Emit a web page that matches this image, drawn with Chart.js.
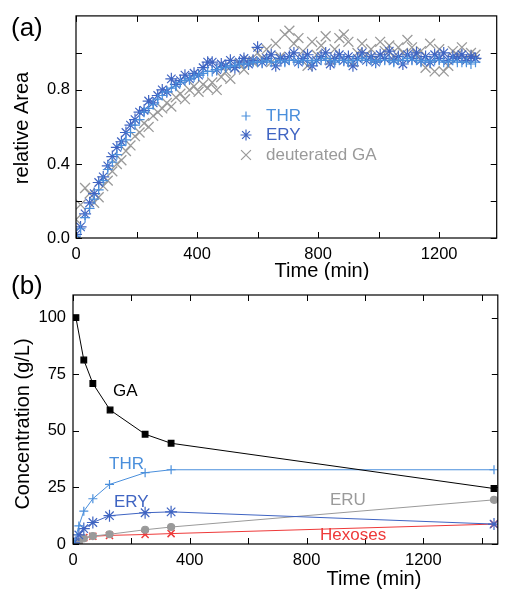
<!DOCTYPE html>
<html>
<head>
<meta charset="utf-8">
<script src="https://cdn.jsdelivr.net/npm/chart.js@4.4.0/dist/chart.umd.min.js"></script>
<style>
  html, body { margin: 0; padding: 0; background: #fff; }
  #wrap { position: relative; width: 505px; height: 590px; }
  .panel { position: absolute; left: 0; }
  #boxA { top: 0; }
  #boxB { top: 270px; }
</style>
</head>
<body>
<div id="wrap">
  <div class="panel" id="boxA"><canvas id="chartA" width="505" height="280"></canvas></div>
  <div class="panel" id="boxB"><canvas id="chartB" width="505" height="320"></canvas></div>
</div>
<script>
// panel (a): relative area vs time
const timeA = [0, 15, 30, 45, 60, 75, 90, 105, 120, 135,
  150, 165, 180, 195, 210, 225, 240, 255, 270, 285,
  300, 315, 330, 345, 360, 375, 390, 405, 420, 435,
  450, 465, 480, 495, 510, 525, 540, 555, 570, 585,
  600, 615, 630, 645, 660, 675, 690, 705, 720, 735,
  750, 765, 780, 795, 810, 825, 840, 855, 870, 885,
  900, 915, 930, 945, 960, 975, 990, 1005, 1020, 1035,
  1050, 1065, 1080, 1095, 1110, 1125, 1140, 1155, 1170, 1185,
  1200, 1215, 1230, 1245, 1260, 1275, 1290, 1305, 1320];

const thrA = [0.01, 0.05, 0.11, 0.16, 0.21, 0.26, 0.31, 0.37, 0.41, 0.45,
  0.50, 0.53, 0.57, 0.61, 0.64, 0.68, 0.70, 0.72, 0.75, 0.77,
  0.79, 0.81, 0.82, 0.84, 0.85, 0.86, 0.87, 0.88, 0.89, 0.90,
  0.90, 0.91, 0.92, 0.92, 0.93, 0.93, 0.94, 0.94, 0.94, 0.95,
  0.95, 0.95, 0.96, 0.95, 0.95, 0.96, 0.95, 0.96, 0.96, 0.95,
  0.96, 0.96, 0.95, 0.96, 0.96, 0.97, 0.96, 0.95, 0.96, 0.96,
  0.95, 0.96, 0.96, 0.97, 0.96, 0.96, 0.95, 0.96, 0.96, 0.96,
  0.95, 0.96, 0.96, 0.97, 0.96, 0.96, 0.95, 0.96, 0.95, 0.96,
  0.96, 0.95, 0.95, 0.96, 0.95, 0.95, 0.95, 0.94, 0.95];

const eryA = [0.02, 0.06, 0.13, 0.19, 0.24, 0.30, 0.33, 0.39, 0.44, 0.49,
  0.52, 0.57, 0.61, 0.64, 0.68, 0.69, 0.74, 0.73, 0.77, 0.80,
  0.79, 0.86, 0.83, 0.85, 0.88, 0.86, 0.89, 0.88, 0.92, 0.95,
  0.95, 0.91, 0.94, 0.93, 0.96, 0.92, 0.95, 0.97, 0.94, 0.96,
  1.03, 0.95, 0.97, 0.99, 0.93, 0.97, 0.96, 0.98, 1.00, 0.95,
  0.97, 0.99, 0.93, 0.96, 0.98, 1.00, 0.94, 0.97, 0.99, 0.96,
  0.98, 0.93, 0.97, 1.00, 0.96, 0.98, 0.95, 0.99, 0.97, 1.01,
  0.96, 0.98, 0.94, 0.99, 0.97, 1.00, 0.96, 0.98, 0.95, 0.99,
  0.97, 1.00, 0.96, 0.98, 0.97, 0.99, 0.96, 0.98, 0.97];

const deutA = [0.10, 0.18, 0.27, 0.24, 0.19, 0.22, 0.28, 0.31, 0.36, 0.40,
  0.42, 0.47, 0.50, 0.55, 0.57, 0.62, 0.60, 0.66, 0.68, 0.70,
  0.73, 0.71, 0.76, 0.78, 0.75, 0.80, 0.82, 0.79, 0.83, 0.81,
  0.84, 0.80, 0.87, 0.90, 0.86, 0.92, 0.94, 0.91, 0.96, 0.95,
  1.00, 0.97, 1.02, 0.95, 1.05, 0.98, 1.10, 1.12, 1.05, 1.08,
  1.01, 0.93, 1.06, 0.99, 1.04, 1.09, 0.96, 1.02, 1.08, 1.10,
  1.06, 0.95, 1.00, 1.05, 0.99, 1.02, 0.97, 1.06, 1.01, 1.04,
  0.98, 1.03, 1.00, 1.07, 1.03, 0.99, 1.01, 0.92, 1.05, 0.90,
  1.02, 0.90, 0.93, 1.01, 0.99, 1.03, 0.97, 1.00, 0.99];

const xTicksA = [0, 200, 400, 600, 800, 1000, 1200];
const yTicksA = [0, 0.2, 0.4, 0.6, 0.8, 1.0];

// panel (b): concentrations vs time
const timeGA = [10, 37, 68, 127, 247, 336, 1442];
const gaB = [100, 81.3, 70.9, 59.2, 48.5, 44.5, 24.5];
const timeProd = [3, 20, 37, 68, 125, 247, 336, 1442];
const thrB = [0, 8, 14.5, 20, 26.3, 31.5, 32.8, 32.8];
const eryB = [0.5, 4, 6.8, 9.5, 12.5, 13.8, 14.2, 8.8];
const eruB = [0, 1, 2.5, 3.5, 4.3, 6.3, 7.5, 19.5];
const hexB = [0.3, 1.5, 2.8, 3.4, 3.8, 4.2, 4.6, 8.8];

const xTicksB = [0, 200, 400, 600, 800, 1000, 1200, 1400];
const yTicksB = [0, 25, 50, 75, 100];

const C_THR = '#4a8fdc';
const C_ERY = '#3f64c2';
const C_GRAY = '#9a9a9a';
const C_RED = '#ee3a3a';
const FONT = "'Liberation Sans', Arial, Helvetica, sans-serif";

Chart.defaults.font.family = FONT;
Chart.defaults.color = '#000';

function pts(xs, ys) {
  return xs.map((x, i) => ({ x: x, y: ys[i] }));
}

function useTicks(values) {
  return s => { s.ticks = values.map(v => ({ value: v })); };
}

// draw one marker by hand (used for the legend in panel a)
function marker(ctx, kind, x, y, r) {
  ctx.beginPath();
  if (kind === 'cross' || kind === 'star') {
    ctx.moveTo(x - r, y); ctx.lineTo(x + r, y);
    ctx.moveTo(x, y - r); ctx.lineTo(x, y + r);
  }
  if (kind === 'crossRot' || kind === 'star') {
    const d = r * 0.7071;
    ctx.moveTo(x - d, y - d); ctx.lineTo(x + d, y + d);
    ctx.moveTo(x - d, y + d); ctx.lineTo(x + d, y - d);
  }
  ctx.stroke();
}

// frame + inward ticks on all four sides
const framePlugin = {
  id: 'frame',
  afterDatasetsDraw(chart) {
    const { ctx, chartArea: a, scales } = chart;
    const len = 6;
    ctx.save();
    ctx.strokeStyle = '#000';
    ctx.lineWidth = 1;
    ctx.beginPath();
    scales.x.ticks.forEach(t => {
      const px = Math.round(scales.x.getPixelForValue(t.value)) + 0.5;
      ctx.moveTo(px, a.bottom); ctx.lineTo(px, a.bottom - len);
      ctx.moveTo(px, a.top); ctx.lineTo(px, a.top + len);
    });
    scales.y.ticks.forEach(t => {
      const py = Math.round(scales.y.getPixelForValue(t.value)) + 0.5;
      ctx.moveTo(a.left, py); ctx.lineTo(a.left + len, py);
      ctx.moveTo(a.right, py); ctx.lineTo(a.right - len, py);
    });
    ctx.stroke();
    ctx.lineWidth = 1.2;
    ctx.strokeRect(a.left, a.top, a.right - a.left, a.bottom - a.top);
    ctx.restore();
  }
};

// free text (titles, panel letters, in-plot labels, legend)
const notesPlugin = {
  id: 'notes',
  afterDraw(chart, args, opts) {
    const ctx = chart.ctx;
    ctx.save();
    (opts.items || []).forEach(it => {
      ctx.save();
      ctx.fillStyle = it.color || '#000';
      ctx.font = (it.size || 17) + 'px ' + FONT;
      ctx.textAlign = it.align || 'left';
      ctx.textBaseline = 'middle';
      ctx.translate(it.x, it.y);
      if (it.rotate) ctx.rotate(it.rotate);
      ctx.fillText(it.text, 0, 0);
      ctx.restore();
    });
    (opts.marks || []).forEach(m => {
      ctx.strokeStyle = m.color;
      ctx.lineWidth = m.width || 1.2;
      marker(ctx, m.kind, m.x, m.y, m.r);
    });
    ctx.restore();
  }
};

function fixWidth(w) { return s => { s.width = w; }; }
function fixHeight(h) { return s => { s.height = h; }; }

// ---------- panel (a) ----------
new Chart(document.getElementById('chartA'), {
  type: 'scatter',
  data: {
    datasets: [
      { label: 'THR', data: pts(timeA, thrA), pointStyle: 'cross', pointRadius: 5,
        borderColor: C_THR, backgroundColor: C_THR, pointBorderWidth: 1.2 },
      { label: 'ERY', data: pts(timeA, eryA), pointStyle: 'star', pointRadius: 6,
        borderColor: C_ERY, backgroundColor: C_ERY, pointBorderWidth: 1.2 },
      { label: 'deuterated GA', data: pts(timeA, deutA), pointStyle: 'crossRot', pointRadius: 7,
        borderColor: C_GRAY, backgroundColor: C_GRAY, pointBorderWidth: 1.3 }
    ]
  },
  options: {
    responsive: false,
    animation: false,
    layout: { padding: { left: 0, right: 2, top: 14, bottom: 0 } },
    scales: {
      x: {
        type: 'linear', min: 0, max: 1390,
        afterBuildTicks: useTicks(xTicksA),
        afterFit: fixHeight(42),
        grid: { display: false, drawTicks: false },
        border: { display: false },
        ticks: {
          autoSkip: false, padding: 7, maxRotation: 0,
          font: { size: 16.5 },
          callback: v => (v % 400 === 0 ? String(v) : '')
        }
      },
      y: {
        min: 0, max: 1.2,
        afterBuildTicks: useTicks(yTicksA),
        afterFit: fixWidth(76),
        grid: { display: false, drawTicks: false },
        border: { display: false },
        ticks: {
          padding: 6, autoSkip: false,
          font: { size: 16.5 },
          callback: v => {
            const k = Math.round(v * 10);
            return (k === 0 || k === 4 || k === 8) ? (k / 10).toFixed(1) : '';
          }
        }
      }
    },
    plugins: {
      legend: { display: false },
      tooltip: { enabled: false },
      notes: {
        items: [
          { text: '(a)', x: 11, y: 29, size: 26 },
          { text: 'relative Area', x: 22, y: 128, size: 20, align: 'center', rotate: -Math.PI / 2 },
          { text: 'Time (min)', x: 322, y: 271, size: 20, align: 'center' },
          { text: 'THR', x: 266, y: 116, color: C_THR },
          { text: 'ERY', x: 266, y: 135.5, color: C_ERY },
          { text: 'deuterated GA', x: 266, y: 155, color: C_GRAY }
        ],
        marks: [
          { kind: 'cross', x: 246, y: 116, r: 4.5, color: C_THR },
          { kind: 'star', x: 246, y: 135, r: 5.5, color: C_ERY },
          { kind: 'crossRot', x: 246, y: 155, r: 7, color: C_GRAY }
        ]
      }
    }
  },
  plugins: [framePlugin, notesPlugin]
});

// ---------- panel (b) ----------
function lineSet(label, xs, ys, color, style, radius, extra) {
  return Object.assign({
    label: label, data: pts(xs, ys), showLine: true, tension: 0,
    borderColor: color, backgroundColor: color, borderWidth: 1,
    pointStyle: style, pointRadius: radius, pointBorderWidth: 1.2
  }, extra || {});
}

new Chart(document.getElementById('chartB'), {
  type: 'scatter',
  data: {
    datasets: [
      lineSet('GA', timeGA, gaB, '#000', 'rect', 4),
      lineSet('THR', timeProd, thrB, C_THR, 'cross', 4.5),
      lineSet('ERY', timeProd, eryB, C_ERY, 'star', 6),
      lineSet('ERU', timeProd, eruB, C_GRAY, 'circle', 3.5),
      lineSet('Hexoses', timeProd, hexB, C_RED, 'crossRot', 5, { pointBorderWidth: 1.5 })
    ]
  },
  options: {
    responsive: false,
    animation: false,
    layout: { padding: { left: 0, right: 4, top: 25, bottom: 0 } },
    scales: {
      x: {
        type: 'linear', min: 0, max: 1455,
        afterBuildTicks: useTicks(xTicksB),
        afterFit: fixHeight(46),
        grid: { display: false, drawTicks: false },
        border: { display: false },
        ticks: {
          autoSkip: false, padding: 7, maxRotation: 0,
          font: { size: 16.5 },
          callback: v => (v % 400 === 0 ? String(v) : '')
        }
      },
      y: {
        min: 0, max: 110,
        afterBuildTicks: useTicks(yTicksB),
        afterFit: fixWidth(73),
        grid: { display: false, drawTicks: false },
        border: { display: false },
        ticks: {
          autoSkip: false, padding: 7,
          font: { size: 16.5 },
          callback: v => String(v)
        }
      }
    },
    plugins: {
      legend: { display: false },
      tooltip: { enabled: false },
      notes: {
        items: [
          { text: '(b)', x: 11, y: 17, size: 26 },
          { text: 'Concentration (g/L)', x: 23.5, y: 154, size: 20, align: 'center', rotate: -Math.PI / 2 },
          { text: 'Time (min)', x: 374, y: 309, size: 20, align: 'center' },
          { text: 'GA', x: 113, y: 121 },
          { text: 'THR', x: 109, y: 194, color: C_THR },
          { text: 'ERY', x: 114, y: 232, color: C_ERY },
          { text: 'ERU', x: 330, y: 230, color: C_GRAY },
          { text: 'Hexoses', x: 320, y: 265, color: C_RED }
        ]
      }
    }
  },
  plugins: [framePlugin, notesPlugin]
});
</script>
</body>
</html>
